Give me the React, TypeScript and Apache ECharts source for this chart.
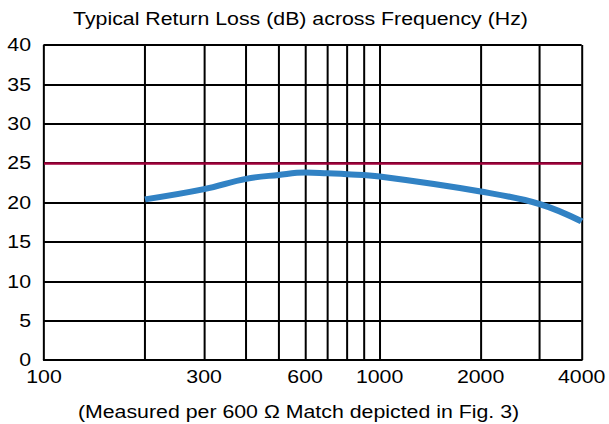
import React, { useEffect, useRef } from "react";
import * as echarts from "echarts";

const freqs = [200, 300, 400, 500, 600, 700, 800, 1000, 2000, 3000, 4000];
const returnLoss = [20.4, 21.7, 23.0, 23.5, 23.8, 23.7, 23.6, 23.3, 21.4, 19.8, 17.6];
const gridFreqs = [200, 300, 400, 500, 600, 700, 800, 900, 1000, 2000, 3000, 4000];
const xLabels = [100, 300, 600, 1000, 2000, 4000];
const limit = 25;
const titleText = "Typical Return Loss (dB) across Frequency (Hz)";
const noteText = "(Measured per 600 \u03A9 Match depicted in Fig. 3)";

// The reference's lettering is horizontally stretched; the chart is drawn
// narrower and widened with a CSS scale so that its text matches.
const W = 500;
const H = 424;
const S = 609 / W;

export default function App() {
  const ref = useRef<HTMLDivElement>(null);
  useEffect(() => {
    document.body.style.margin = "0";
    const chart = echarts.init(ref.current!, null, { renderer: "svg" });
    const font = "Liberation Sans, Arial, sans-serif";
    const fs = 17.5;
    chart.setOption({
      animation: false,
      backgroundColor: "#fff",
      graphic: [
        {
          type: "text",
          x: 300.5 / S,
          y: 18.5,
          style: {
            text: titleText,
            fontFamily: font,
            fontSize: fs,
            fill: "#000",
            textAlign: "center",
            textVerticalAlign: "middle",
          },
        },
        {
          type: "text",
          x: 298.5 / S,
          y: 411.5,
          style: {
            text: noteText,
            fontFamily: font,
            fontSize: fs,
            fill: "#000",
            textAlign: "center",
            textVerticalAlign: "middle",
          },
        },
      ],
      grid: { left: 44 / S, right: 19 / S, top: 45, bottom: 64 },
      xAxis: {
        type: "log",
        logBase: 10,
        min: 100,
        max: 4000,
        axisLine: { show: true, lineStyle: { color: "#000", width: 2 } },
        axisTick: { show: false },
        splitLine: { show: false },
        minorTick: { show: false },
        minorSplitLine: { show: false },
        axisLabel: {
          customValues: xLabels,
          formatter: (v: number) => String(Math.round(v)),
          fontFamily: font,
          fontSize: fs,
          color: "#000",
          margin: 8,
          showMaxLabel: true,
          showMinLabel: true,
        },
      },
      yAxis: {
        type: "value",
        min: 0,
        max: 40,
        interval: 5,
        axisLine: { show: true, lineStyle: { color: "#000", width: 2 / S } },
        axisTick: { show: false },
        splitLine: { show: true, lineStyle: { color: "#000", width: 2 } },
        axisLabel: { fontFamily: font, fontSize: fs, color: "#000", margin: 13 / S },
      },
      series: [
        {
          type: "line",
          data: freqs.map((f, i) => [f, returnLoss[i]]),
          smooth: 0.4,
          showSymbol: false,
          lineStyle: { color: "#3182c4", width: 6 },
          z: 5,
          markLine: {
            silent: true,
            symbol: "none",
            label: { show: false },
            data: [
              ...gridFreqs.map((f) => ({ xAxis: f, lineStyle: { color: "#000", width: 2 / S, type: "solid" } })),
              { yAxis: limit, lineStyle: { color: "#a0003a", width: 2.5, type: "solid" } },
            ],
          },
        },
      ],
    });
    return () => chart.dispose();
  }, []);
  return (
    <div
      ref={ref}
      style={{
        width: W,
        height: H,
        position: "absolute",
        left: 0,
        top: 0,
        transform: `scaleX(${S})`,
        transformOrigin: "0 0",
      }}
    />
  );
}
